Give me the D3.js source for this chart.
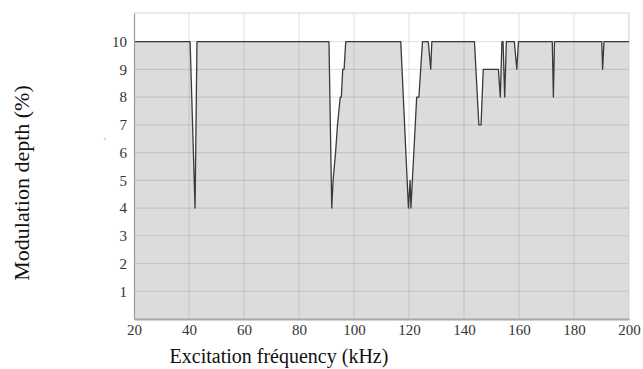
<!DOCTYPE html>
<html>
<head>
<meta charset="utf-8">
<script src="https://cdn.jsdelivr.net/npm/d3@7"></script>
<style>
  body { margin: 0; background: #fff; }
  svg { display: block; }
</style>
</head>
<body>
<div id="chart"></div>
<script>
// excitation frequency (kHz) and modulation depth (%)
var freq  = [20, 40.4, 42.2, 42.9, 90.9, 91.9, 92.4, 93.3, 94.0, 95.0, 95.4, 95.9, 96.4, 97.0,
             117.0, 119.8, 120.4, 120.7, 122.8, 123.6, 124.9, 127.0, 127.9, 128.3,
             143.8, 145.4, 146.2, 147.0, 152.5, 153.2, 153.8, 154.2, 154.8, 155.4,
             158.3, 159.2, 159.8, 172.1, 172.5, 172.9, 190.1, 190.4, 190.9, 200];
var depth = [10, 10, 4, 10, 10, 4, 5, 6, 7, 8, 8, 9, 9, 10,
             10, 4, 5, 4, 8, 8, 10, 10, 9, 10,
             10, 7, 7, 9, 9, 8, 10, 10, 8, 10,
             10, 9, 10, 10, 8, 10, 10, 9, 10, 10];
var xTicks = [20, 40, 60, 80, 100, 120, 140, 160, 180, 200];
var yTicks = [1, 2, 3, 4, 5, 6, 7, 8, 9, 10];

var width = 643, height = 369;
var margin = {left: 134, right: 14, top: 13, bottom: 50};
var serif = "\"Liberation Serif\", \"DejaVu Serif\", serif";

var svg = d3.select("#chart").append("svg")
    .attr("width", width)
    .attr("height", height);

var x = d3.scaleLinear().domain([20, 200]).range([margin.left, width - margin.right]);
var y = d3.scaleLinear().domain([0, 11.03]).range([height - margin.bottom, margin.top]);

var data = freq.map(function(f, i){ return {f: f, v: depth[i]}; });

// grey area under the curve
var area = d3.area()
    .x(function(d){ return x(d.f); })
    .y0(y(0))
    .y1(function(d){ return y(d.v); });

svg.append("path")
    .datum(data)
    .attr("d", area)
    .attr("fill", "#dcdcdc");

// grid on top of the fill, semi transparent so it shows on white and grey
var grid = svg.append("g");
grid.selectAll(".vgrid").data(xTicks.slice(1, -1)).enter().append("line")
    .attr("x1", function(d){ return x(d); })
    .attr("x2", function(d){ return x(d); })
    .attr("y1", y(11.03))
    .attr("y2", y(0))
    .attr("stroke", "rgba(0,0,0,0.1)")
    .attr("stroke-width", 1.2);
grid.selectAll(".hgrid").data(yTicks).enter().append("line")
    .attr("x1", x(20))
    .attr("x2", x(200))
    .attr("y1", function(d){ return y(d); })
    .attr("y2", function(d){ return y(d); })
    .attr("stroke", "rgba(0,0,0,0.1)")
    .attr("stroke-width", 1.2);

// frame top + right
svg.append("path")
    .attr("d", "M" + x(20) + "," + y(11.03) + "H" + x(200) + "V" + y(0))
    .attr("fill", "none")
    .attr("stroke", "#d6d6d6")
    .attr("stroke-width", 1.2);

// the curve
var line = d3.line()
    .x(function(d){ return x(d.f); })
    .y(function(d){ return y(d.v); });

svg.append("path")
    .datum(data)
    .attr("d", line)
    .attr("fill", "none")
    .attr("stroke", "#3a3a3a")
    .attr("stroke-width", 1.3)
    .attr("stroke-linejoin", "round");

// axes
var xAxis = svg.append("g")
    .attr("transform", "translate(0," + y(0) + ")")
    .call(d3.axisBottom(x).tickValues(xTicks).tickSize(0).tickPadding(5));
var yAxis = svg.append("g")
    .attr("transform", "translate(" + x(20) + ",0)")
    .call(d3.axisLeft(y).tickValues(yTicks).tickSize(0).tickPadding(7));

[xAxis, yAxis].forEach(function(g){
  g.attr("font-family", null).attr("font-size", null);
  g.selectAll("text")
    .attr("fill", "#333")
    .style("font-family", serif)
    .style("font-size", "15px");
});

xAxis.select(".domain").attr("stroke", "#a8a8a8").attr("stroke-width", 2);
yAxis.select(".domain").attr("stroke", "#9a9a9a").attr("stroke-width", 1.2);

// axis titles
svg.append("text")
    .attr("x", 279)
    .attr("y", 363)
    .attr("text-anchor", "middle")
    .style("font-family", serif)
    .style("font-size", "20px")
    .attr("fill", "#111")
    .text("Excitation fréquency (kHz)");

svg.append("text")
    .attr("transform", "translate(29,183) rotate(-90)")
    .attr("text-anchor", "middle")
    .style("font-family", serif)
    .style("font-size", "22px")
    .attr("fill", "#111")
    .text("Modulation depth (%)");

// small stray mark left of the axis
svg.append("text")
    .attr("x", 104)
    .attr("y", 145)
    .style("font-family", serif)
    .style("font-size", "10px")
    .attr("fill", "#999")
    .text("'");
</script>
</body>
</html>
